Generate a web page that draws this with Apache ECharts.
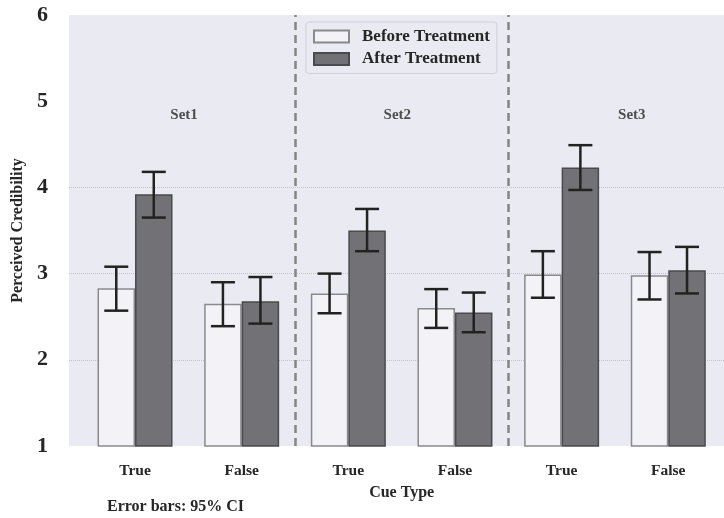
<!DOCTYPE html>
<html>
<head>
<meta charset="utf-8">
<script src="https://cdn.jsdelivr.net/npm/echarts@6/dist/echarts.min.js"></script>
<style>
  html, body { margin: 0; padding: 0; background: #fff; }
  #chart { width: 724px; height: 518px; }
</style>
</head>
<body>
<div id="chart"></div>
<script>
// categories along the x axis (three sets, True / False cue each)
const cueTypes = ['True', 'False', 'True', 'False', 'True', 'False']
const setNames = ['Set1', 'Set2', 'Set3']

// mean perceived credibility
const beforeMean = [2.83, 2.65, 2.77, 2.60, 2.99, 2.98]
const afterMean = [3.92, 2.68, 3.50, 2.55, 4.23, 3.04]

// 95% CI bounds
const beforeLow = [2.57, 2.39, 2.54, 2.37, 2.72, 2.70]
const beforeHigh = [3.08, 2.90, 3.00, 2.82, 3.26, 3.25]
const afterLow = [3.65, 2.42, 3.26, 2.32, 3.97, 2.77]
const afterHigh = [4.18, 2.96, 3.75, 2.78, 4.49, 3.31]

const yTicks = [1, 2, 3, 4, 5, 6]

const FONT = '"Liberation Serif", "DejaVu Serif", serif'
const TEXT = '#262626'
const BAR_W = 37.5

// annotation positions (in value units of the background axis)
const setLabelPos = [0.46, 2.46, 4.66]
const setLabelY = 4.84
const dividers = [1.5, 3.5]

function errorBars(low, high, offset) {
  return {
    type: 'custom',
    xAxisIndex: 1,
    yAxisIndex: 1,
    silent: true,
    z: 5,
    data: low.map((v, i) => [i, v, high[i]]),
    encode: { x: 0, y: [1, 2] },
    renderItem(params, api) {
      const lo = api.coord([api.value(0), api.value(1)])
      const hi = api.coord([api.value(0), api.value(2)])
      const x = lo[0] + offset
      const cap = 12
      const style = { stroke: '#222', lineWidth: 2.5, fill: null }
      return {
        type: 'group',
        children: [
          { type: 'line', shape: { x1: x, y1: lo[1], x2: x, y2: hi[1] }, style },
          { type: 'line', shape: { x1: x - cap, y1: lo[1], x2: x + cap, y2: lo[1] }, style },
          { type: 'line', shape: { x1: x - cap, y1: hi[1], x2: x + cap, y2: hi[1] }, style }
        ]
      }
    }
  }
}

const chart = echarts.init(document.getElementById('chart'))

chart.setOption({
  backgroundColor: '#fff',
  animation: false,
  textStyle: { fontFamily: FONT },
  legend: {
    data: ['Before Treatment', 'After Treatment'],
    orient: 'vertical',
    left: 306,
    top: 22,
    icon: 'rect',
    itemWidth: 35,
    itemHeight: 12,
    itemGap: 5.5,
    padding: [6, 7, 6, 7],
    backgroundColor: '#eaeaf2',
    borderColor: '#cfcfd6',
    borderWidth: 1,
    borderRadius: 3,
    textStyle: {
      fontFamily: FONT,
      fontWeight: 'bold',
      fontSize: 17,
      color: TEXT,
      padding: [0, 0, 0, 8]
    }
  },
  grid: [
    {
      left: 69,
      right: 0,
      top: 15,
      bottom: 72,
      show: true,
      backgroundColor: '#eaeaf2',
      borderWidth: 0
    },
    {
      left: 81.7,
      right: 2.4,
      top: 15,
      bottom: 72
    }
  ],
  xAxis: [
    {
      type: 'value',
      gridIndex: 0,
      min: -0.62,
      max: 5.525,
      show: false
    },
    {
      type: 'category',
      gridIndex: 1,
      data: cueTypes,
      axisLine: { show: false },
      axisTick: { show: false },
      axisLabel: {
        margin: 17,
        fontFamily: FONT,
        fontWeight: 'bold',
        fontSize: 15.5,
        color: TEXT
      },
      name: 'Cue Type',
      nameLocation: 'middle',
      nameGap: 39,
      nameTextStyle: {
        fontFamily: FONT,
        fontWeight: 'bold',
        fontSize: 16,
        color: TEXT
      }
    }
  ],
  yAxis: [
    {
      type: 'value',
      gridIndex: 0,
      min: yTicks[0],
      max: yTicks[yTicks.length - 1],
      interval: 1,
      axisLine: { show: false },
      axisTick: { show: false },
      axisLabel: {
        margin: 21,
        fontFamily: FONT,
        fontWeight: 'bold',
        fontSize: 22,
        color: TEXT
      },
      splitLine: {
        show: true,
        lineStyle: {
          type: 'dotted',
          width: 1,
          color: ['transparent', '#c4c4ca', '#c4c4ca', '#c4c4ca', 'transparent', 'transparent']
        }
      },
      name: 'Perceived Credibility',
      nameLocation: 'middle',
      nameGap: 42,
      nameTextStyle: {
        fontFamily: FONT,
        fontWeight: 'bold',
        fontSize: 16,
        color: TEXT
      }
    },
    {
      type: 'value',
      gridIndex: 1,
      min: yTicks[0],
      max: yTicks[yTicks.length - 1],
      show: false
    }
  ],
  series: [
    {
      name: 'Before Treatment',
      type: 'bar',
      xAxisIndex: 1,
      yAxisIndex: 1,
      data: beforeMean,
      barWidth: BAR_W,
      barGap: '0%',
      clip: true,
      itemStyle: {
        color: '#f2f2f7',
        borderColor: '#8a8a8e',
        borderWidth: 1.5
      }
    },
    {
      name: 'After Treatment',
      type: 'bar',
      xAxisIndex: 1,
      yAxisIndex: 1,
      data: afterMean,
      barWidth: BAR_W,
      barGap: '0%',
      clip: true,
      itemStyle: {
        color: '#727176',
        borderColor: '#4a4a4e',
        borderWidth: 1.5
      }
    },
    errorBars(beforeLow, beforeHigh, -BAR_W / 2),
    errorBars(afterLow, afterHigh, BAR_W / 2),
    {
      // set labels and dashed dividers on the background axes
      type: 'scatter',
      xAxisIndex: 0,
      yAxisIndex: 0,
      silent: true,
      symbolSize: 0,
      data: setNames.map((name, i) => ({ name, value: [setLabelPos[i], setLabelY] })),
      label: {
        show: true,
        position: 'inside',
        formatter: '{b}',
        fontFamily: FONT,
        fontWeight: 'bold',
        fontSize: 15,
        color: TEXT
      },
      markLine: {
        silent: true,
        symbol: 'none',
        label: { show: false },
        lineStyle: {
          type: [8, 5],
          color: '#858585',
          width: 2.5
        },
        data: dividers.map(x => ({ xAxis: x }))
      }
    }
  ],
  graphic: [
    {
      type: 'text',
      left: 107,
      top: 499,
      style: {
        text: 'Error bars: 95% CI',
        font: 'bold 16px ' + FONT,
        fill: TEXT
      }
    }
  ]
})
</script>
</body>
</html>
